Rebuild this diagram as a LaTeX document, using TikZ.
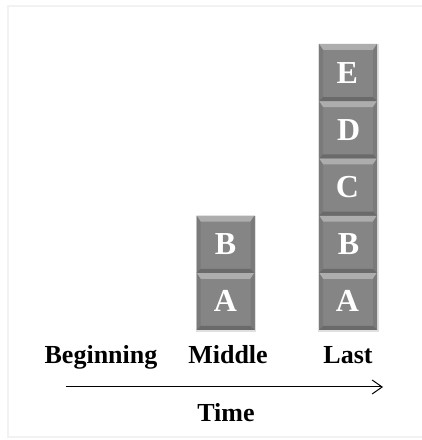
\documentclass[tikz,border=0pt]{standalone}
\usepackage{fontspec}
\setmainfont{Liberation Serif}
\usetikzlibrary{arrows.meta}

\definecolor{face}{HTML}{858585}
\definecolor{bevtop}{HTML}{ADADAD}
\definecolor{bevside}{HTML}{7A7A7A}
\definecolor{bevbot}{HTML}{6A6A6A}
\definecolor{frameline}{HTML}{F2F2F2}

\tikzset{
  blockbox/.style={
    minimum width=58pt, minimum height=57.2pt, inner sep=0pt, outer sep=0pt},
  blockletter/.style={text=white, inner sep=0pt, font=\fontsize{32}{32}\selectfont\bfseries},
  stackshadow/.style={fill=black, opacity=0.12},
  lbl/.style={font=\fontsize{26}{26}\selectfont\bfseries, inner sep=0pt, anchor=base},
  timeline/.style={line width=1pt, -{Straight Barb[length=10pt,width=14pt,line width=1pt]}},
  framing/.style={draw=frameline, line width=1.2pt}
}

\begin{document}
\begin{tikzpicture}[x=1pt,y=1pt]
  \useasboundingbox (0,0) rectangle (422,440);
  \fill[white] (0,0) rectangle (422,440);
  \draw[framing] (422,434) -- (8,434) -- (8,3) -- (422,3);

  % block outlines: middle stack, then last stack
  \node[blockbox] (mA) at (225.5,138.6) {};
  \node[blockbox] (mB) at (225.5,195.8) {};
  \node[blockbox] (lA) at (348,138.6) {};
  \node[blockbox] (lB) at (348,195.8) {};
  \node[blockbox] (lC) at (348,253.0) {};
  \node[blockbox] (lD) at (348,310.2) {};
  \node[blockbox] (lE) at (348,367.4) {};

  % soft shadows behind the stacks
  \fill[stackshadow] ([shift={(-1pt,-2pt)}]mA.south west) rectangle ([shift={(1.5pt,0pt)}]mB.north east);
  \fill[stackshadow] ([shift={(-1pt,-2pt)}]lA.south west) rectangle ([shift={(1.5pt,0pt)}]lE.north east);

  % bevelled block faces
  \foreach \b in {mA,mB,lA,lB,lC,lD,lE}{
    \fill[face] (\b.south west) rectangle (\b.north east);
    \fill[bevtop] (\b.north west) -- (\b.north east)
      -- ([shift={(-4pt,-6pt)}]\b.north east) -- ([shift={(4pt,-6pt)}]\b.north west) -- cycle;
    \fill[bevside] (\b.north west) -- ([shift={(4pt,-6pt)}]\b.north west)
      -- ([shift={(4pt,4pt)}]\b.south west) -- (\b.south west) -- cycle;
    \fill[bevside] (\b.north east) -- ([shift={(-4pt,-6pt)}]\b.north east)
      -- ([shift={(-4pt,4pt)}]\b.south east) -- (\b.south east) -- cycle;
    \fill[bevbot] (\b.south west) -- (\b.south east)
      -- ([shift={(-4pt,4pt)}]\b.south east) -- ([shift={(4pt,4pt)}]\b.south west) -- cycle;
  }

  % block letters
  \node[blockletter] (tlE) at ([xshift=-0.6pt]lE) {E};
  \node[blockletter] (tmA) at (mA) {A};
  \node[blockletter] (tlB) at ([xshift=0.6pt]lB) {B};
  \node[blockletter] (tlD) at ([xshift=0.6pt]lD) {D};
  \node[blockletter] (tmB) at (mB) {B};
  \node[blockletter] (tlA) at ([xshift=-0.6pt]lA) {A};
  \node[blockletter] (tlC) at ([xshift=-0.6pt]lC) {C};

  % stage labels
  \node[lbl] (beg) at (101,76) {Beginning};
  \node[lbl] (mid) at (228,76) {Middle};
  \node[lbl] (lst) at (348,76) {Last};

  % time axis
  \coordinate (tstart) at (66,53);
  \coordinate (tend) at (383,53);
  \draw[timeline] (tstart) -- (tend);
  \node[lbl] (time) at (226,18) {Time};
\end{tikzpicture}
\end{document}
